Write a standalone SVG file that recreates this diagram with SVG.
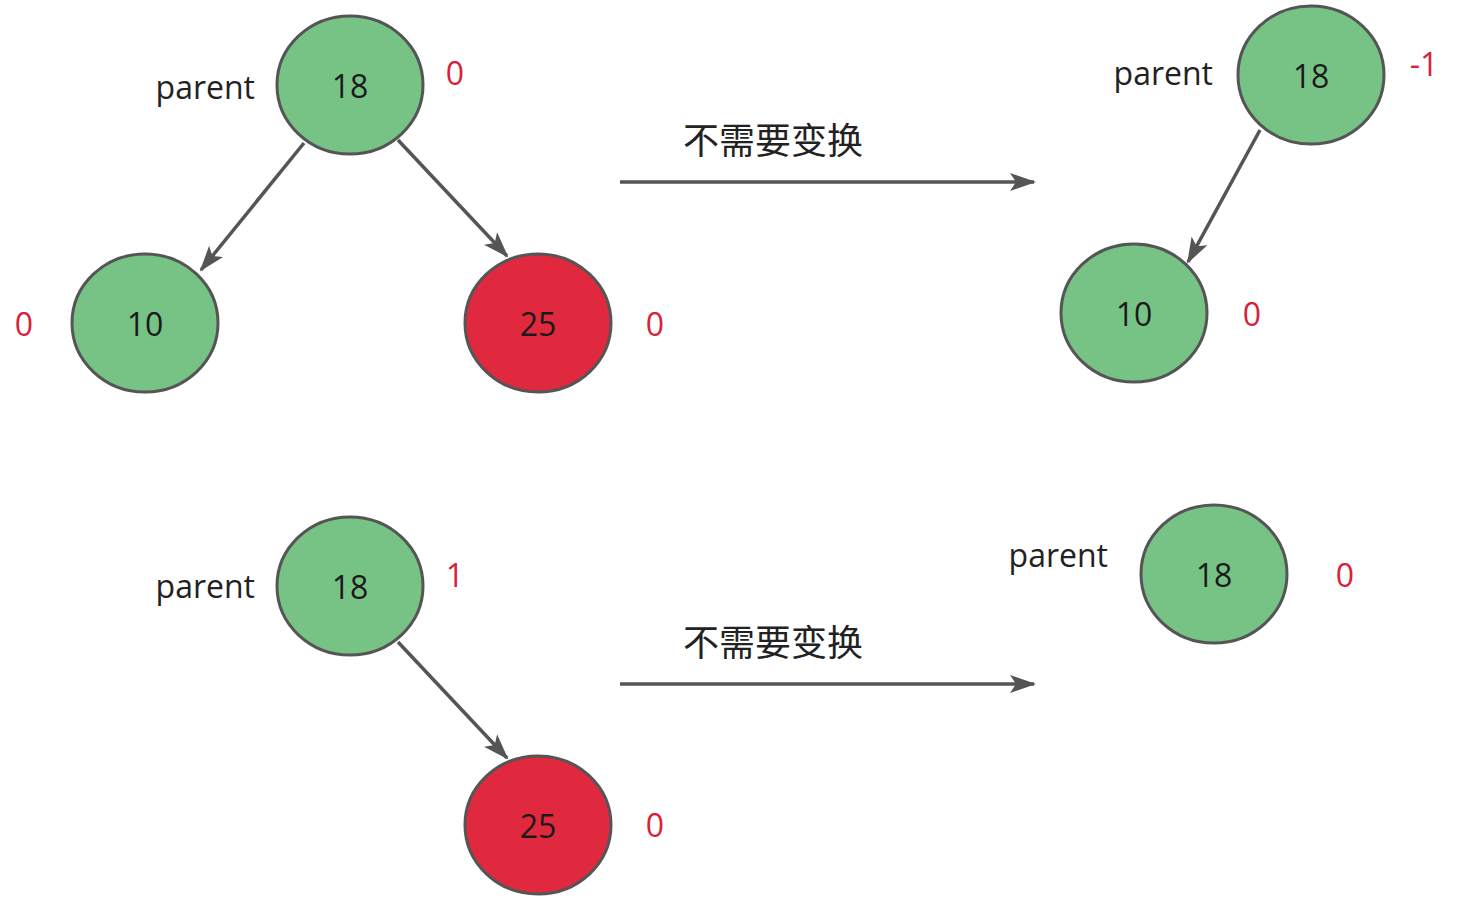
<svg xmlns="http://www.w3.org/2000/svg" width="1473" height="900" viewBox="0 0 1473 900">
<defs>
<marker id="ah" markerUnits="userSpaceOnUse" markerWidth="26" markerHeight="22" viewBox="0 0 26 22" refX="24" refY="11" orient="auto">
<path d="M0,2 L26,11 L0,20 L6,11 Z" fill="#555555"/>
</marker>
<style>
.g{fill:#77c386;stroke:#555555;stroke-width:3}
.r{fill:#e0293f;stroke:#555555;stroke-width:3}
.num{font-family:"Open Sans","Noto Sans",sans-serif;font-size:32px;fill:#1a1a1a;text-anchor:middle;dominant-baseline:central}
.bf{font-family:"Open Sans","Noto Sans",sans-serif;font-size:32px;fill:#d9213a;text-anchor:middle;dominant-baseline:central}
.lbl{font-family:"Open Sans","Noto Sans",sans-serif;font-size:32px;fill:#222222;text-anchor:end;dominant-baseline:central}
.cn{font-family:"Noto Sans CJK SC",sans-serif;font-size:36px;fill:#222222}
.e{stroke:#555555;stroke-width:3.5;fill:none;marker-end:url(#ah)}
</style>
</defs>
<rect width="1473" height="900" fill="#ffffff"/>
<g id="connectors">
<line class="e" x1="304" y1="143" x2="201" y2="270"/>
<line class="e" x1="398" y1="140" x2="507" y2="256"/>
<line class="e" x1="1260" y1="130" x2="1188" y2="262"/>
<line class="e" x1="398" y1="642" x2="507" y2="758"/>
<line class="e" x1="620" y1="182" x2="1034" y2="182"/>
<line class="e" x1="620" y1="684" x2="1034" y2="684"/>
</g>
<g id="n1"><ellipse class="g" cx="350" cy="85" rx="73" ry="69"/><text class="num" x="350" y="85">18</text></g>
<g id="n2"><ellipse class="g" cx="145" cy="323" rx="73" ry="69"/><text class="num" x="145" y="323">10</text></g>
<g id="n3"><ellipse class="r" cx="538" cy="323" rx="73" ry="69"/><text class="num" x="538" y="323">25</text></g>
<g id="n4"><ellipse class="g" cx="1311" cy="75" rx="73" ry="69"/><text class="num" x="1311" y="75">18</text></g>
<g id="n5"><ellipse class="g" cx="1134" cy="313" rx="73" ry="69"/><text class="num" x="1134" y="313">10</text></g>
<g id="n6"><ellipse class="g" cx="350" cy="586" rx="73" ry="69"/><text class="num" x="350" y="586">18</text></g>
<g id="n7"><ellipse class="r" cx="538" cy="825" rx="73" ry="69"/><text class="num" x="538" y="825">25</text></g>
<g id="n8"><ellipse class="g" cx="1214" cy="574" rx="73" ry="69"/><text class="num" x="1214" y="574">18</text></g>
<g id="labels">
<text class="lbl" x="255" y="86">parent</text>
<text class="lbl" x="1213" y="72">parent</text>
<text class="lbl" x="255" y="585">parent</text>
<text class="lbl" x="1108" y="554">parent</text>
<text class="bf" x="455" y="72">0</text>
<text class="bf" x="24" y="323">0</text>
<text class="bf" x="655" y="323">0</text>
<text class="bf" x="1424" y="63">-1</text>
<text class="bf" x="1252" y="313">0</text>
<text class="bf" x="455" y="574">1</text>
<text class="bf" x="655" y="824">0</text>
<text class="bf" x="1345" y="574">0</text>
<text class="cn" x="683" y="154">不需要变换</text>
<text class="cn" x="683" y="656">不需要变换</text>
</g>
</svg>
